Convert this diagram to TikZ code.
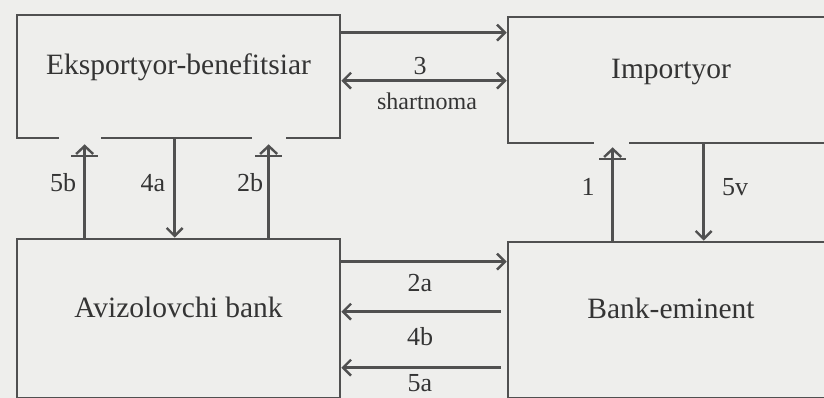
\documentclass[tikz,border=0pt]{standalone}
\usepackage{fontspec}
\setmainfont{Liberation Serif}
\usetikzlibrary{arrows.meta,calc}
\definecolor{ikpaper}{RGB}{238,238,236}
\definecolor{ikink}{RGB}{80,80,80}
\definecolor{iktext}{RGB}{52,52,52}
\tikzset{
  ikbox/.style={draw=ikink, line width=2.7pt, inner sep=0pt, text=iktext,
    font=\fontsize{29.5}{31}\selectfont, text height=20pt, text depth=23pt},
  ikline/.style={draw=ikink, line width=2.4pt},
  ikhead/.style={-{Straight Barb[length=8pt,width=16pt]}},
  ikboth/.style={{Straight Barb[length=8pt,width=16pt]}-{Straight Barb[length=8pt,width=16pt]}},
  ikup/.style={-{Bar[width=27pt,line width=1.7pt] Straight Barb[length=8pt,width=17pt]}},
  ikgap/.style={fill=ikpaper},
  iknum/.style={text=iktext, inner sep=0pt, font=\fontsize{26}{28}\selectfont},
  iksmall/.style={text=iktext, inner sep=0pt, font=\fontsize{24}{26}\selectfont},
}
\begin{document}
\begin{tikzpicture}[x=1pt,y=-1pt]
\useasboundingbox (0,0) rectangle (824,398);
\clip (0,0) rectangle (824,398);
\fill[ikpaper] (0,0) rectangle (824,398);
\node[ikbox, minimum width=323pt, minimum height=123pt] (exp) at (178.5,76.5) {Eksportyor-benefitsiar};
\node[ikbox, minimum width=326pt, minimum height=126pt] (imp) at (671,80) {Importyor};
\node[ikbox, minimum width=323pt, minimum height=159pt] (avz) at (178.5,318.5) {Avizolovchi bank};
\node[ikbox, minimum width=326pt, minimum height=156pt] (emi) at (671,320) {Bank-eminent};
\fill[ikgap] ($(exp.south west)+(43,-3)$) rectangle ($(exp.south west)+(85,3)$);
\fill[ikgap] ($(exp.south west)+(236,-3)$) rectangle ($(exp.south west)+(270,3)$);
\fill[ikgap] ($(imp.south west)+(87,-3)$) rectangle ($(imp.south west)+(122,3)$);
\draw[ikline,ikhead] ($(exp.north east)+(0,19)$) -- ($(imp.north west)+(0,17)$);
\draw[ikline,ikboth] ($(exp.north east)+(0,67)$) -- ($(imp.north west)+(0,65)$);
\draw[ikline,ikhead] ($(avz.north east)+(0,24)$) -- ($(emi.north west)+(0,21)$);
\draw[ikline,ikhead] ($(emi.north west)+(-6,71)$) -- ($(avz.north east)+(0,74)$);
\draw[ikline,ikhead] ($(emi.north west)+(-6,127)$) -- ($(avz.north east)+(0,130)$);
\draw[ikline,ikup] ($(avz.north west)+(69,0)$) -- ($(exp.south west)+(69,5)$);
\draw[ikline,ikhead] ($(exp.south west)+(159,0)$) -- ($(avz.north west)+(159,0)$);
\draw[ikline,ikup] ($(avz.north west)+(253,0)$) -- ($(exp.south west)+(253,5)$);
\draw[ikline,ikup] ($(emi.north west)+(106,0)$) -- ($(imp.south west)+(106,3)$);
\draw[ikline,ikhead] ($(imp.south west)+(197,0)$) -- ($(emi.north west)+(197,0)$);
\node[iknum] (l3) at (420,66) {3};
\node[iksmall] (lsh) at (427,101) {shartnoma};
\node[iknum] (l2a) at (420,283) {2a};
\node[iknum] (l4b) at (420,337) {4b};
\node[iknum] (l5a) at (420,383) {5a};
\node[iknum] (l5b) at (63,183) {5b};
\node[iknum] (l4a) at (153,183) {4a};
\node[iknum] (l2b) at (250,183) {2b};
\node[iknum] (l1) at (588,187) {1};
\node[iknum] (l5v) at (735,187) {5v};
\end{tikzpicture}
\end{document}
